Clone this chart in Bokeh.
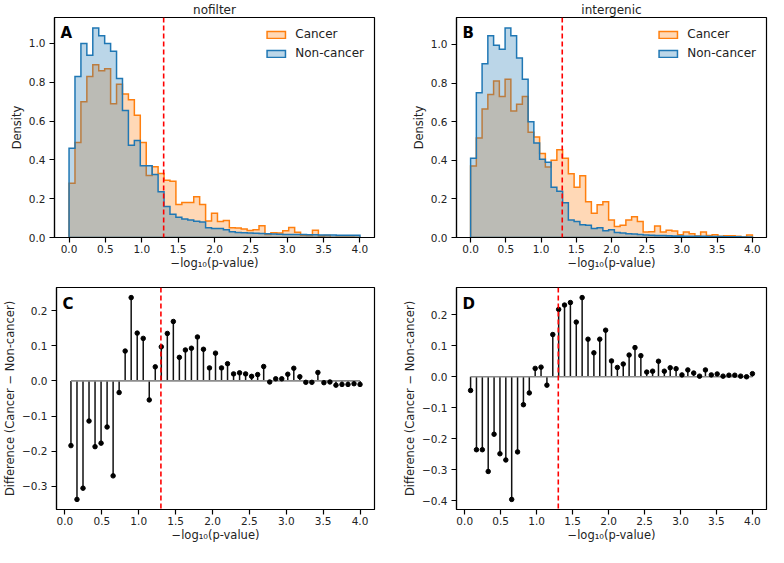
import numpy as np
from bokeh.plotting import figure
from bokeh.layouts import column, row
from bokeh.models import Range1d, Span, Label, FixedTicker, CustomJSTickFormatter
from bokeh.embed import file_html
from bokeh.resources import INLINE

# ---------------- data ----------------
N_BINS = 49
X_LO, X_HI = 0.0, 4.0
THRESHOLD = 1.301  # -log10(0.05)

nofilter_cancer = [0.28, 0.49, 0.70, 0.83, 0.89, 0.86, 0.87, 0.69, 0.79, 0.74,
                   0.71, 0.63, 0.49, 0.32, 0.365, 0.33, 0.295, 0.29, 0.17, 0.18,
                   0.18, 0.21, 0.17, 0.085, 0.125, 0.083, 0.088, 0.05, 0.049, 0.044,
                   0.036, 0.04, 0.061, 0.016, 0.024, 0.023, 0.035, 0.052, 0.027, 0.011,
                   0.010, 0.038, 0.008, 0.010, 0.001, 0.002, 0.002, 0.003, 0.001]
nofilter_noncancer = [0.46, 0.83, 1.00, 0.94, 1.08, 1.04, 1.00, 0.96, 0.82, 0.655,
                      0.475, 0.50, 0.37, 0.37, 0.325, 0.236, 0.16, 0.12, 0.105, 0.095,
                      0.09, 0.084, 0.08, 0.05, 0.046, 0.046, 0.04, 0.03, 0.026, 0.024,
                      0.023, 0.022, 0.02, 0.019, 0.018, 0.017, 0.016, 0.016, 0.015, 0.015,
                      0.014, 0.014, 0.013, 0.013, 0.013, 0.012, 0.012, 0.011, 0.011]
intergenic_cancer = [0.37, 0.515, 0.665, 0.74, 0.81, 0.73, 0.82, 0.655, 0.69, 0.73,
                     0.545, 0.52, 0.435, 0.365, 0.40, 0.455, 0.41, 0.33, 0.26, 0.32,
                     0.185, 0.125, 0.17, 0.185, 0.09, 0.057, 0.064, 0.09, 0.108, 0.083,
                     0.028, 0.03, 0.06, 0.028, 0.038, 0.034, 0.014, 0.029, 0.019, 0.008,
                     0.028, 0.011, 0.014, 0.006, 0.009, 0.009, 0.006, 0.003, 0.013]
intergenic_noncancer = [0.41, 0.75, 0.90, 1.045, 0.995, 0.975, 1.085, 1.045, 0.93, 0.82,
                        0.60, 0.49, 0.405, 0.39, 0.26, 0.24, 0.18, 0.09, 0.083, 0.066,
                        0.063, 0.046, 0.051, 0.035, 0.04, 0.026, 0.023, 0.02, 0.018, 0.015,
                        0.013, 0.012, 0.011, 0.010, 0.009, 0.008, 0.008, 0.007, 0.007, 0.006,
                        0.006, 0.005, 0.005, 0.005, 0.004, 0.004, 0.004, 0.003, 0.003]
nofilter_diff = [-0.184, -0.337, -0.305, -0.114, -0.187, -0.177, -0.131, -0.270, -0.033, 0.085,
                 0.237, 0.136, 0.121, -0.054, 0.040, 0.097, 0.135, 0.169, 0.067, 0.088,
                 0.093, 0.125, 0.090, 0.037, 0.079, 0.037, 0.049, 0.020, 0.023, 0.020,
                 0.013, 0.018, 0.041, -0.003, 0.006, 0.006, 0.019, 0.036, 0.012, -0.004,
                 -0.004, 0.024, -0.005, -0.003, -0.012, -0.010, -0.010, -0.008, -0.010]
intergenic_diff = [-0.044, -0.235, -0.235, -0.305, -0.185, -0.248, -0.268, -0.395, -0.242, -0.090,
                   -0.052, 0.027, 0.031, -0.027, 0.136, 0.217, 0.231, 0.239, 0.176, 0.255,
                   0.121, 0.077, 0.121, 0.150, 0.051, 0.030, 0.041, 0.070, 0.094, 0.068,
                   0.015, 0.018, 0.050, 0.018, 0.029, 0.026, 0.006, 0.022, 0.012, 0.002,
                   0.022, 0.006, 0.009, 0.002, 0.005, 0.005, 0.002, 0.000, 0.010]

x_ticks = [0.0, 0.5, 1.0, 1.5, 2.0, 2.5, 3.0, 3.5, 4.0]
density_ticks = [0.0, 0.2, 0.4, 0.6, 0.8, 1.0]
diff_ticks_c = [-0.3, -0.2, -0.1, 0.0, 0.1, 0.2]
diff_ticks_d = [-0.4, -0.3, -0.2, -0.1, 0.0, 0.1, 0.2]
series_labels = ["Cancer", "Non-cancer"]
titles = ["nofilter", "intergenic"]
panel_letters = ["A", "B", "C", "D"]
XLABEL = "\u2212log\u2081\u2080(p-value)"
YLABEL_HIST = "Density"
YLABEL_DIFF = "Difference (Cancer \u2212 Non-cancer)"

# ---------------- style / layout ----------------
FONT = "DejaVu Sans"
C_CANCER = "#ff7f0e"
C_NON = "#1f77b4"
LEFT_COL = dict(w=382, bl=54, br=8)
RIGHT_COL = dict(w=386, bl=74, br=2)
ROW1 = dict(h=275, bt=15, bb=38)
ROW2 = dict(h=272, bt=12, bb=38)

edges = np.linspace(X_LO, X_HI, N_BINS + 1)
fmt = CustomJSTickFormatter(code="return (tick < -1e-9 ? '\u2212' : '') + Math.abs(tick).toFixed(1);")


def make_fig(col, rw, xr, yr, ylabel):
    p = figure(width=col["w"], height=rw["h"], output_backend="svg", toolbar_location=None,
               x_range=xr, y_range=yr,
               min_border_left=col["bl"], min_border_right=col["br"],
               min_border_top=rw["bt"], min_border_bottom=rw["bb"])
    p.outline_line_color = "black"
    p.outline_line_width = 1.2
    p.xgrid.visible = False
    p.ygrid.visible = False
    for ax in (p.xaxis[0], p.yaxis[0]):
        ax.axis_line_width = 1.2
        ax.major_tick_line_width = 1.2
        ax.major_tick_out = 5
        ax.major_tick_in = 0
        ax.minor_tick_out = 0
        ax.minor_tick_in = 0
        ax.major_label_text_font = FONT
        ax.major_label_text_font_size = "10.5px"
        ax.major_label_text_color = "#222222"
        ax.axis_label_text_font = FONT
        ax.axis_label_text_font_size = "11.5px"
        ax.axis_label_text_font_style = "normal"
        ax.axis_label_text_color = "#222222"
        ax.formatter = fmt
    p.xaxis[0].major_label_standoff = 2
    p.xaxis[0].axis_label_standoff = 0
    p.yaxis[0].major_label_standoff = 4
    p.yaxis[0].axis_label_standoff = 2
    p.xaxis[0].ticker = FixedTicker(ticks=x_ticks)
    p.xaxis[0].axis_label = XLABEL
    p.yaxis[0].axis_label = ylabel
    return p


def add_letter(p, col, rw, letter):
    fw = col["w"] - col["bl"] - col["br"]
    fh = rw["h"] - rw["bt"] - rw["bb"]
    xr, yr = p.x_range, p.y_range
    p.add_layout(Label(x=xr.start + 6 * (xr.end - xr.start) / fw,
                       y=yr.end - 7 * (yr.end - yr.start) / fh,
                       text=letter, text_font=FONT, text_font_size="15px",
                       text_font_style="bold", text_baseline="top", text_align="left",
                       text_color="black"))


def hist_panel(cancer, non, title, letter, col):
    top = max(max(cancer), max(non)) * 1.05
    span = X_HI - X_LO
    p = make_fig(col, ROW1, Range1d(X_LO - 0.05 * span, X_HI + 0.05 * span), Range1d(0, top),
                 YLABEL_HIST)
    p.yaxis[0].ticker = FixedTicker(ticks=density_ticks)
    p.title.text = title
    p.title.align = "center"
    p.title.text_font = FONT
    p.title.text_font_size = "12px"
    p.title.text_font_style = "normal"
    p.title.text_color = "#222222"
    p.title.standoff = 1
    for vals, c, lab in ((cancer, C_CANCER, series_labels[0]), (non, C_NON, series_labels[1])):
        v = np.asarray(vals)
        px = np.concatenate([[edges[0]], np.column_stack([edges[:-1], edges[1:]]).ravel(), [edges[-1]]])
        py = np.concatenate([[0.0], np.repeat(v, 2), [0.0]])
        p.patch(px, py, fill_color=c, fill_alpha=0.3, line_color=c, line_width=1.5,
                line_join="miter", legend_label=lab)
    p.add_layout(Span(location=THRESHOLD, dimension="height", line_color="red",
                      line_dash="5 3", line_width=1.6))
    add_letter(p, col, ROW1, letter)
    lg = p.legend[0]
    lg.location = "top_right"
    lg.background_fill_alpha = 0
    lg.border_line_alpha = 0
    lg.label_text_font = FONT
    lg.label_text_font_size = "12px"
    lg.label_text_color = "#222222"
    lg.glyph_width = 23
    lg.glyph_height = 9
    lg.spacing = 5
    lg.padding = 4
    lg.margin = 6
    lg.label_standoff = 8
    return p


def stem_panel(diff, yticks, letter, col):
    d = np.asarray(diff)
    xs = edges[1:]
    xspan = xs[-1] - xs[0]
    lo, hi = d.min(), d.max()
    yspan = hi - lo
    p = make_fig(col, ROW2, Range1d(xs[0] - 0.05 * xspan, xs[-1] + 0.05 * xspan),
                 Range1d(lo - 0.05 * yspan, hi + 0.05 * yspan), YLABEL_DIFF)
    p.yaxis[0].ticker = FixedTicker(ticks=yticks)
    p.segment(x0=xs, y0=np.zeros_like(d), x1=xs, y1=d, line_color="#111111", line_width=1.5)
    p.segment(x0=[xs[0]], y0=[0], x1=[xs[-1]], y1=[0], line_color="#8c8c8c", line_width=1.6)
    p.scatter(xs, d, size=4.5, fill_color="black", line_color="black")
    p.add_layout(Span(location=THRESHOLD, dimension="height", line_color="red",
                      line_dash="5 3", line_width=1.6))
    add_letter(p, col, ROW2, letter)
    return p


pA = hist_panel(nofilter_cancer, nofilter_noncancer, titles[0], panel_letters[0], LEFT_COL)
pB = hist_panel(intergenic_cancer, intergenic_noncancer, titles[1], panel_letters[1], RIGHT_COL)
pC = stem_panel(nofilter_diff, diff_ticks_c, panel_letters[2], LEFT_COL)
pD = stem_panel(intergenic_diff, diff_ticks_d, panel_letters[3], RIGHT_COL)

layout = column(row(pA, pB), row(pC, pD))
open("out.html", "w").write(file_html(layout, INLINE))
